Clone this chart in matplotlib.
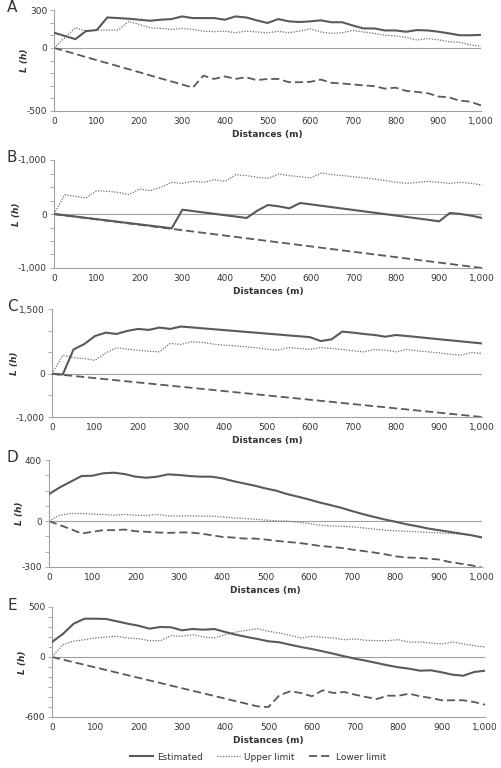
import numpy as np
import matplotlib
matplotlib.use("Agg")
import matplotlib.pyplot as plt

# distances every 25 m
dist = list(range(0, 1001, 25))

# Panel A
a_est = [120, 95, 69, 133, 141, 241, 236, 231, 223, 215, 223, 228, 249, 236, 236, 236, 223, 249, 241, 218, 197,
         228, 210, 205, 210, 218, 203, 203, 177, 154, 154, 138, 138, 128, 141, 138, 128, 115, 100, 100, 103]
a_up = [0, 80, 159, 133, 141, 141, 141, 210, 185, 159, 154, 146, 154, 146, 133, 128, 133, 120, 133, 126, 120,
        131, 120, 133, 151, 126, 115, 120, 138, 126, 115, 100, 95, 82, 62, 74, 64, 49, 44, 23, 13]
a_low = [0, -24, -48, -73, -97, -121, -145, -169, -193, -218, -242, -266, -290, -315, -220, -246, -226, -246,
         -233, -256, -246, -246, -272, -272, -269, -251, -277, -282, -290, -297, -303, -323, -315, -341, -349,
         -359, -385, -392, -418, -426, -456]

# Panel B
b_est = [0, -24, -48, -72, -96, -120, -144, -168, -192, -216, -240, -265, 80, 54, 28, 3, -23, -48, -74, 62, 167,
         142, 105, 204, 178, 152, 126, 100, 74, 48, 22, -4, -30, -56, -82, -108, -136, 19, 0, -31, -74]
b_up = [0, 358, 327, 296, 432, 420, 401, 358, 463, 432, 494, 586, 568, 605, 586, 636, 605, 728, 710, 679, 660,
        741, 710, 691, 667, 759, 728, 710, 691, 667, 648, 617, 586, 568, 586, 605, 586, 568, 586, 568, 537]
b_low = [0, -25, -50, -75, -100, -125, -150, -175, -200, -225, -250, -275, -300, -325, -350, -375, -400, -425,
         -450, -475, -500, -525, -550, -575, -600, -625, -650, -675, -700, -725, -750, -775, -800, -825, -850,
         -875, -900, -925, -950, -975, -1000]

# Panel C
c_est = [0, -16, 563, 688, 875, 953, 922, 992, 1039, 1016, 1070, 1039, 1094, 1074, 1053, 1033, 1012, 992, 971,
         951, 930, 910, 889, 869, 848, 758, 797, 977, 953, 922, 898, 859, 898, 875, 850, 825, 800, 776, 752,
         727, 703]
c_up = [0, 430, 375, 352, 313, 484, 602, 570, 547, 523, 508, 703, 680, 742, 727, 688, 664, 648, 625, 602, 570,
        547, 609, 586, 563, 609, 586, 563, 531, 508, 563, 547, 508, 563, 531, 508, 484, 453, 430, 492, 469]
c_low = b_low

# Panel D
d_est = [177, 221, 258, 295, 297, 313, 317, 308, 291, 284, 291, 306, 302, 295, 291, 291, 280, 262, 247, 232, 214,
         199, 177, 160, 142, 122, 105, 87, 66, 46, 28, 11, -4, -20, -33, -48, -59, -70, -81, -92, -107]
d_up = [0, 39, 50, 50, 46, 44, 39, 44, 39, 37, 44, 35, 33, 35, 33, 33, 28, 22, 17, 13, 7, 2, 0, -7, -15, -26,
        -31, -33, -37, -44, -52, -59, -63, -66, -70, -74, -77, -81, -85, -92, -103]
d_low = [0, -26, -52, -81, -70, -59, -59, -55, -66, -70, -74, -77, -74, -74, -81, -92, -103, -107, -114, -114,
         -120, -129, -136, -142, -151, -162, -168, -175, -186, -195, -205, -216, -230, -238, -240, -245, -251,
         -267, -278, -289, -304]

# Panel E
e_est = [150, 230, 333, 383, 383, 380, 357, 333, 313, 283, 300, 297, 267, 280, 273, 280, 250, 223, 200, 180, 157,
         147, 123, 100, 80, 57, 33, 7, -17, -37, -60, -83, -103, -117, -137, -133, -153, -177, -187, -150, -137]
e_up = [0, 123, 157, 173, 190, 200, 207, 190, 183, 163, 163, 213, 207, 223, 200, 190, 223, 250, 267, 283, 257,
        240, 217, 190, 207, 197, 190, 173, 180, 167, 163, 163, 173, 147, 150, 140, 130, 150, 130, 113, 100]
e_low = [0, -26, -52, -78, -104, -130, -156, -182, -208, -234, -260, -286, -312, -338, -364, -390, -416, -442,
         -468, -494, -500, -383, -343, -360, -393, -333, -360, -350, -377, -400, -420, -387, -387, -367, -393,
         -410, -433, -433, -433, -450, -477]

panels = ["A", "B", "C", "D", "E"]
series = [(a_est, a_up, a_low), (b_est, b_up, b_low), (c_est, c_up, c_low),
          (d_est, d_up, d_low), (e_est, e_up, e_low)]
ylims = [(-500, 300), (-1000, 1000), (-1000, 1500), (-300, 400), (-600, 500)]
ysteps = [100, 250, 500, 100, 100]
ylabels_top = ["300", "-1,000", "1,500", "400", "500"]
ylabels_bot = ["-500", "-1,000", "-1,000", "-300", "-600"]

# axes boxes in pixels: left, right, top, bottom
boxes = [(54, 481, 10, 111), (54, 482, 160, 268), (52, 482, 309, 417),
         (49, 482, 460, 567), (52, 485, 607, 717)]

W, H = 502, 768
fig = plt.figure(figsize=(W / 100, H / 100), dpi=100)
col = "#5a5a5a"
dotcol = "#6e6e6e"
gray = "#a0a0a0"
dash = (0, (4.5, 2.2))
dots = (0, (1, 1.2))

for i in range(5):
    l, r, t, b = boxes[i]
    ax = fig.add_axes([l / W, 1 - b / H, (r - l) / W, (b - t) / H])
    est, up, low = series[i]
    ax.axhline(0, color=gray, lw=0.8, zorder=1)
    ax.plot(dist, low, color=col, lw=1.3, ls=dash, zorder=2)
    ax.plot(dist, up, color=dotcol, lw=0.9, ls=dots, zorder=2)
    ax.plot(dist, est, color=col, lw=1.5, ls="-", zorder=3)
    lo, hi = ylims[i]
    ax.set_ylim(lo, hi)
    ax.set_xlim(0, 1000)
    ticks = np.arange(lo, hi + 1, ysteps[i])
    ax.set_yticks(ticks)
    labs = []
    for tv in ticks:
        if tv == hi:
            labs.append(ylabels_top[i])
        elif tv == lo:
            labs.append(ylabels_bot[i])
        elif tv == 0:
            labs.append("0")
        else:
            labs.append("")
    ax.set_yticklabels(labs)
    ax.set_xticks(range(0, 1001, 100))
    ax.set_xticklabels(["0", "100", "200", "300", "400", "500", "600", "700", "800", "900", "1,000"])
    for s in ["top", "right"]:
        ax.spines[s].set_visible(False)
    for s in ["left", "bottom"]:
        ax.spines[s].set_color(gray)
        ax.spines[s].set_linewidth(0.8)
    ax.tick_params(axis="y", length=3, width=0.6, color=gray, labelsize=6.5, pad=2, labelcolor="#333333")
    ax.tick_params(axis="x", length=0, labelsize=6.5, pad=4, labelcolor="#333333")
    ax.set_xlabel("Distances (m)", fontsize=6.5, fontweight="bold", color="#333333", labelpad=3)
    ax.set_ylabel("L (h)", fontsize=6.5, fontweight="bold", fontstyle="italic", color="#333333", labelpad=-2)
    fig.text(12 / W, 1 - (t - 2) / H, panels[i], fontsize=11, color="#333333", va="center", ha="center")

# legend
lax = fig.add_axes([0, 0, 1, 0.04])
lax.axis("off")
h1, = lax.plot([], [], color=col, lw=1.5, ls="-", label="Estimated")
h2, = lax.plot([], [], color=dotcol, lw=0.9, ls=dots, label="Upper limit")
h3, = lax.plot([], [], color=col, lw=1.3, ls=dash, label="Lower limit")
fig.legend(handles=[h1, h2, h3], loc="center", bbox_to_anchor=(258 / W, 1 - 757 / H), ncol=3, frameon=False,
           fontsize=6.5, handlelength=2.6, columnspacing=1.6, handletextpad=0.4, labelcolor="#333333")

fig.savefig("out.png", dpi=100)
